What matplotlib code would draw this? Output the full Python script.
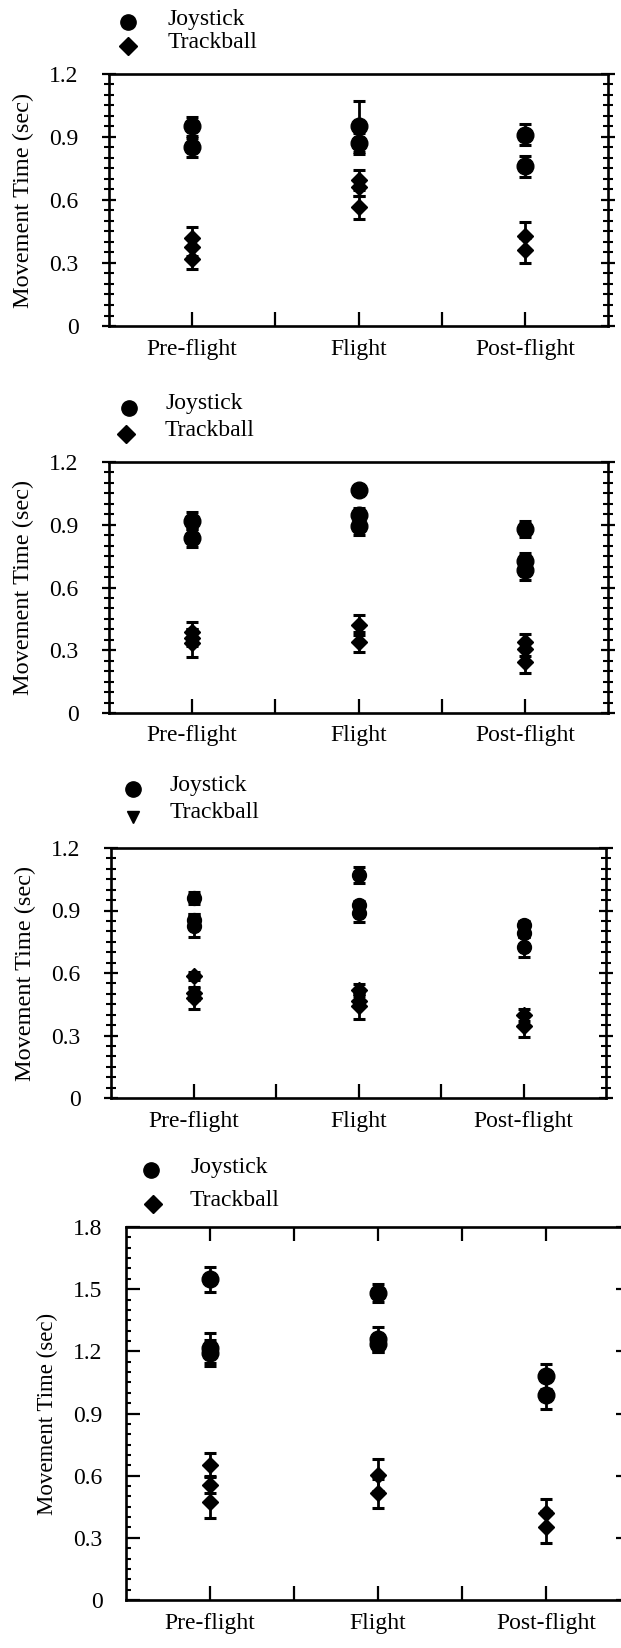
import matplotlib
matplotlib.use('Agg')
import matplotlib.pyplot as plt
from matplotlib.lines import Line2D
from matplotlib.ticker import MultipleLocator, FixedLocator, FuncFormatter

plt.rcParams['font.family'] = ['Liberation Serif', 'DejaVu Serif']
plt.rcParams['font.size'] = 17

phases = ['Pre-flight', 'Flight', 'Post-flight']
devices = ['Joystick', 'Trackball']

# panel 1
p1_joy = [[0.95, 0.85], [0.95, 0.87], [0.91, 0.76]]
p1_joy_err = [[0.045, 0.045], [0.12, 0.05], [0.05, 0.05]]
p1_trk = [[0.42, 0.375, 0.32], [0.695, 0.66, 0.565], [0.43, 0.36]]
p1_trk_err = [[0.05, 0.04, 0.05], [0.048, 0.04, 0.055], [0.067, 0.06]]

# panel 2
p2_joy = [[0.92, 0.837], [1.065, 0.949, 0.893], [0.88, 0.725, 0.685]]
p2_joy_err = [[0.04, 0.045], [0.025, 0.03, 0.04], [0.04, 0.04, 0.048]]
p2_trk = [[0.385, 0.36, 0.335], [0.421, 0.341], [0.341, 0.304, 0.245]]
p2_trk_err = [[0.048, 0.04, 0.065], [0.048, 0.048], [0.037, 0.03, 0.056]]

# panel 3
p3_joy = [[0.96, 0.856, 0.827], [1.07, 0.928, 0.888], [0.831, 0.791, 0.727]]
p3_joy_err = [[0.03, 0.025, 0.055], [0.04, 0.02, 0.045], [0.02, 0.02, 0.048]]
p3_trk = [[0.586, 0.502, 0.478], [0.518, 0.467, 0.441], [0.398, 0.345]]
p3_trk_err = [[0.02, 0.03, 0.05], [0.03, 0.03, 0.06], [0.027, 0.05]]

# panel 4
p4_joy = [[1.548, 1.216, 1.192], [1.481, 1.259, 1.237], [1.079, 0.99]]
p4_joy_err = [[0.06, 0.072, 0.065], [0.045, 0.06, 0.04], [0.06, 0.07]]
p4_trk = [[0.652, 0.556, 0.475], [0.604, 0.515], [0.419, 0.354]]
p4_trk_err = [[0.057, 0.04, 0.077], [0.076, 0.07], [0.067, 0.077]]

W, H = 621, 1648
fig = plt.figure(figsize=(W / 100, H / 100), dpi=100)


def box(l, t, r, b):
    return [l / W, 1 - b / H, (r - l) / W, (b - t) / H]


def px(x, y):
    return x / W, 1 - y / H


panels = [
    dict(joy=p1_joy, joy_err=p1_joy_err, trk=p1_trk, trk_err=p1_trk_err,
         rect=box(109, 74, 608, 326), ymax=1.2, top=False, ms=12, dms=8.5,
         leg=[(128, 22, 168, 19), (128, 46, 168, 43)], legm=['o', 'D']),
    dict(joy=p2_joy, joy_err=p2_joy_err, trk=p2_trk, trk_err=p2_trk_err,
         rect=box(109, 462, 608, 713), ymax=1.2, top=False, ms=12, dms=8.5,
         leg=[(129, 408, 165, 404), (126, 434, 165, 431)], legm=['o', 'D']),
    dict(joy=p3_joy, joy_err=p3_joy_err, trk=p3_trk, trk_err=p3_trk_err,
         rect=box(111, 848, 606, 1098), ymax=1.2, top=False, ms=10, dms=8,
         leg=[(133, 789, 170, 786), (133, 817, 170, 813)], legm=['o', 'v']),
    dict(joy=p4_joy, joy_err=p4_joy_err, trk=p4_trk, trk_err=p4_trk_err,
         rect=box(126, 1227, 630, 1600), ymax=1.8, top=True, ms=12, dms=8.5,
         leg=[(151, 1170, 190, 1167), (153, 1204, 190, 1201)], legm=['o', 'D']),
]

fmt = FuncFormatter(lambda v, p: '0' if abs(v) < 1e-9 else '%.1f' % v)

for pn in panels:
    ax = fig.add_axes(pn['rect'])
    for i in range(len(phases)):
        for v, e in zip(pn['joy'][i], pn['joy_err'][i]):
            ax.errorbar(i + 1, v, yerr=e, fmt='o', color='k', ms=pn['ms'],
                        capsize=4.5, elinewidth=2, capthick=2.2)
        for v, e in zip(pn['trk'][i], pn['trk_err'][i]):
            ax.errorbar(i + 1, v, yerr=e, fmt='D', color='k', ms=pn['dms'],
                        capsize=4.5, elinewidth=2, capthick=2.2)

    ax.set_xlim(0.5, 3.5)
    ax.set_ylim(0, pn['ymax'])
    ax.set_xticks([1, 2, 3])
    ax.set_xticklabels(phases)
    ax.xaxis.set_minor_locator(FixedLocator([1.5, 2.5]))
    ax.yaxis.set_major_locator(MultipleLocator(0.3))
    ax.yaxis.set_minor_locator(MultipleLocator(0.05))
    ax.yaxis.set_major_formatter(fmt)
    ax.set_ylabel('Movement Time (sec)', fontsize=16.5 if pn['top'] else 17.5,
                  labelpad=11)

    for s in ax.spines.values():
        s.set_linewidth(1.9)

    ax.tick_params(axis='x', which='both', direction='in', length=10, width=1.6,
                   bottom=True, top=pn['top'], pad=9)
    ax.tick_params(axis='y', which='major', direction='in', length=8, width=1.6,
                   left=True, pad=17)
    ax.tick_params(axis='y', which='minor', direction='in', length=3.5, width=1.5,
                   left=True)
    if pn['top']:
        ax.tick_params(axis='y', which='major', right=True, direction='in', length=10)
        ax.tick_params(axis='y', which='minor', right=False)
    else:
        ax.tick_params(axis='y', which='major', right=True, direction='inout', length=10)
        ax.tick_params(axis='y', which='minor', right=True, direction='inout', length=7)

    # legend drawn at the top left, above the axes
    for (mx, my, tx, ty), m, lab in zip(pn['leg'], pn['legm'], devices):
        fig.add_artist(Line2D([px(mx, my)[0]], [px(mx, my)[1]], marker=m, color='k',
                              ms=11 if m == 'o' else 9, ls='none',
                              transform=fig.transFigure))
        fig.text(*px(tx, ty), lab, va='center', ha='left')

fig.savefig('out.png', dpi=100)
